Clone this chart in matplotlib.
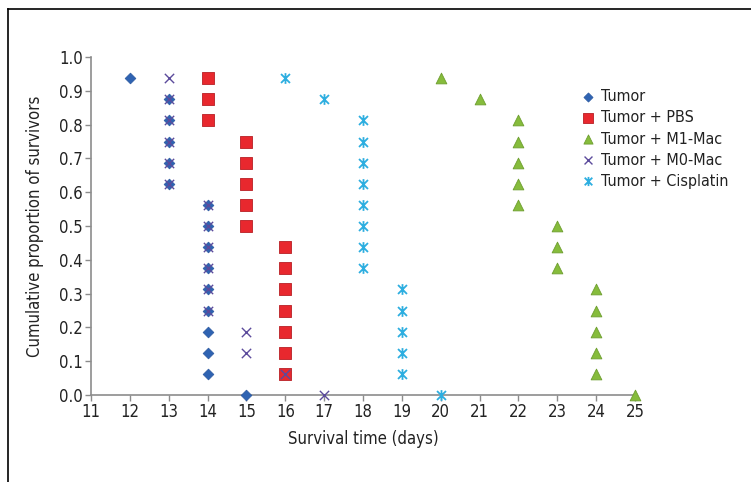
import matplotlib
matplotlib.use("Agg")
import matplotlib.pyplot as plt
from matplotlib.path import Path
from matplotlib.lines import Line2D

plt.rcParams['font.family'] = ['DejaVu Sans']
plt.rcParams['font.stretch'] = 'condensed'

# Data (survival proportion steps of 1/16)
tumor_x = [12, 13, 13, 13, 13, 13, 14, 14, 14, 14, 14, 14, 14, 14, 14, 15]
tumor_y = [0.9375, 0.875, 0.8125, 0.75, 0.6875, 0.625, 0.5625, 0.5, 0.4375, 0.375,
           0.3125, 0.25, 0.1875, 0.125, 0.0625, 0.0]

pbs_x = [14, 14, 14, 15, 15, 15, 15, 15, 16, 16, 16, 16, 16, 16, 16]
pbs_y = [0.9375, 0.875, 0.8125, 0.75, 0.6875, 0.625, 0.5625, 0.5, 0.4375, 0.375,
         0.3125, 0.25, 0.1875, 0.125, 0.0625]

m1_x = [20, 21, 22, 22, 22, 22, 22, 23, 23, 23, 24, 24, 24, 24, 24, 25]
m1_y = [0.9375, 0.875, 0.8125, 0.75, 0.6875, 0.625, 0.5625, 0.5, 0.4375, 0.375,
        0.3125, 0.25, 0.1875, 0.125, 0.0625, 0.0]

m0_x = [13, 13, 13, 13, 13, 13, 14, 14, 14, 14, 14, 14, 15, 15, 16, 17]
m0_y = [0.9375, 0.875, 0.8125, 0.75, 0.6875, 0.625, 0.5625, 0.5, 0.4375, 0.375,
        0.3125, 0.25, 0.1875, 0.125, 0.0625, 0.0]

cis_x = [16, 17, 18, 18, 18, 18, 18, 18, 18, 18, 19, 19, 19, 19, 19, 20]
cis_y = [0.9375, 0.875, 0.8125, 0.75, 0.6875, 0.625, 0.5625, 0.5, 0.4375, 0.375,
         0.3125, 0.25, 0.1875, 0.125, 0.0625, 0.0]

labels = ["Tumor", "Tumor + PBS", "Tumor + M1-Mac", "Tumor + M0-Mac", "Tumor + Cisplatin"]
x_ticks = list(range(11, 26))
y_ticks = [0.0, 0.1, 0.2, 0.3, 0.4, 0.5, 0.6, 0.7, 0.8, 0.9, 1.0]

# custom asterisk marker: X plus vertical bar
star_path = Path(
    [(-1, -1), (1, 1), (-1, 1), (1, -1), (0, -1.2), (0, 1.2)],
    [Path.MOVETO, Path.LINETO, Path.MOVETO, Path.LINETO, Path.MOVETO, Path.LINETO])

fig = plt.figure(figsize=(7.51, 4.82), dpi=100)
ax = fig.add_axes([91 / 751, 1 - 395 / 482, (635 - 91) / 751, (395 - 57) / 482])

ax.scatter(tumor_x, tumor_y, marker='D', s=30, color='#2F63B2', edgecolors='#2A58A0',
           linewidths=0.5, label=labels[0], zorder=3, clip_on=False)
ax.scatter(pbs_x, pbs_y, marker='s', s=66, color='#E8282E', edgecolors='#B81F24',
           linewidths=0.6, label=labels[1], zorder=3, clip_on=False)
ax.scatter(m1_x, m1_y, marker='^', s=60, color='#86BC3C', edgecolors='#6E9E30',
           linewidths=0.6, label=labels[2], zorder=3, clip_on=False)
ax.scatter(m0_x, m0_y, marker='x', s=45, color='#5C4B9C', linewidths=1.0,
           label=labels[3], zorder=4, clip_on=False)
ax.scatter(cis_x, cis_y, marker=star_path, s=60, color='#2DAEE0', linewidths=1.3,
           label=labels[4], zorder=5, clip_on=False)

ax.set_xlim(11, 25)
ax.set_ylim(0, 1.0)
ax.set_xticks(x_ticks)
ax.set_xticklabels([str(t) for t in x_ticks])
ax.set_yticks(y_ticks)
ax.set_yticklabels([f"{t:.1f}" for t in y_ticks])

for s in ['top', 'right']:
    ax.spines[s].set_visible(False)
for s in ['left', 'bottom']:
    ax.spines[s].set_color('#8C8C8C')
    ax.spines[s].set_linewidth(1.2)
ax.tick_params(axis='both', direction='out', color='#8C8C8C', length=4, width=1,
               labelsize=12, labelcolor='#222222', pad=2)

ax.set_xlabel("Survival time (days)", fontsize=12, color='#222222', labelpad=6)
ax.set_ylabel("Cumulative proportion of survivors", fontsize=12, color='#222222', labelpad=11)

leg = fig.legend(loc='upper left', bbox_to_anchor=(574 / 751, 1 - 83 / 482), frameon=False,
                 fontsize=11.5, handletextpad=0.3, labelspacing=0.38, borderaxespad=0,
                 handlelength=1.0, scatterpoints=1, markerscale=0.85)
for t in leg.get_texts():
    t.set_color('#222222')

# outer frame (left and top edges)
fig.add_artist(Line2D([8 / 751, 8 / 751], [0, 1 - 9 / 482], transform=fig.transFigure,
                      color='black', linewidth=1.2))
fig.add_artist(Line2D([8 / 751, 1], [1 - 9 / 482, 1 - 9 / 482], transform=fig.transFigure,
                      color='black', linewidth=1.2))

fig.savefig("out.png", dpi=100)
